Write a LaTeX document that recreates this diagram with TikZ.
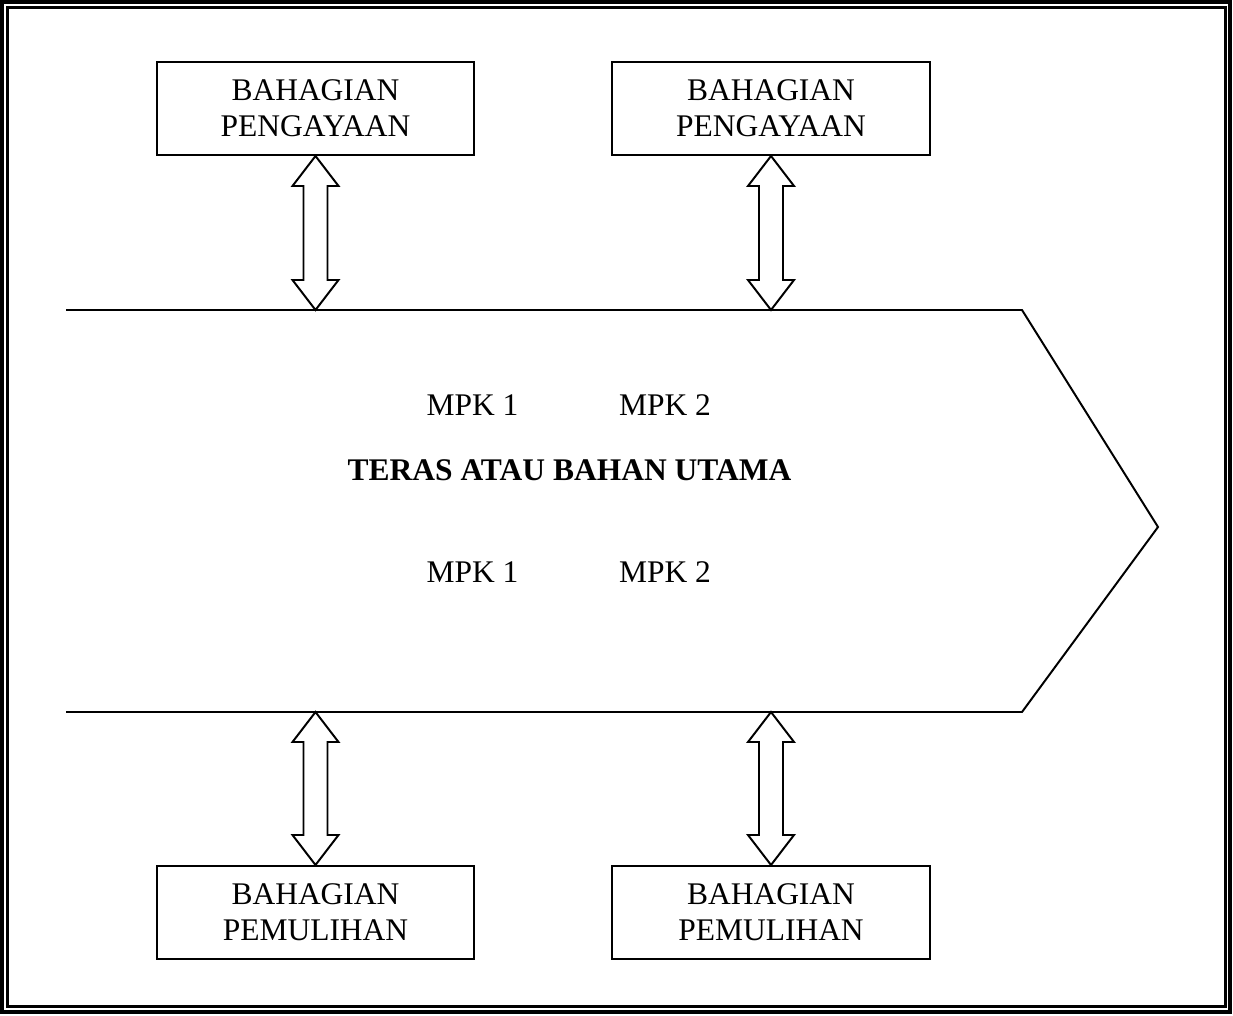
\documentclass[tikz,border=0pt]{standalone}
\usepackage{fontspec}
\setmainfont{Liberation Serif}
\usetikzlibrary{calc}

\tikzset{
  kotak/.style={draw,line width=1.4pt,minimum width=7.925cm,minimum height=2.325cm,
    inner sep=0pt,align=center,font=\fontsize{22.4}{25.6}\selectfont},
  teks/.style={anchor=base,inner sep=0pt,font=\fontsize{22.4}{25.6}\selectfont},
  garis/.style={line width=1.4pt,line join=miter},
}

% anak panah dua hala: #1 hujung atas, #2 hujung bawah
\newcommand{\duahala}[2]{%
  \draw[garis] (#1) -- ++(23,30) -- ++(-11,0) -- ($(#2)+(12,-30)$) -- ++(11,0)
    -- (#2) -- ++(-23,-30) -- ++(11,0) -- ($(#1)+(-12,30)$) -- ++(-11,0) -- cycle;}

\begin{document}
\begin{tikzpicture}[x=0.025cm,y=-0.025cm]
    \useasboundingbox (0,0) rectangle (1233,1016);
    % bingkai berganda
    \draw[line width=2.8pt] (2,2) rectangle (1230,1012);
    \draw[line width=1.6pt] (7.5,7.5) rectangle (1225.5,1006.5);

    % jalur utama (bentuk anak panah)
    \draw[garis] (66,310) -- (1022,310) -- (1158,527) -- (1022,712) -- (66,712);
    \coordinate (atas1) at (315.5,310);
    \coordinate (atas2) at (771,310);
    \coordinate (bawah1) at (315.5,712);
    \coordinate (bawah2) at (771,712);

    \node[kotak] (pengayaan1) at (315.5,108.5) {BAHAGIAN\\PENGAYAAN};
    \node[kotak] (pengayaan2) at (771,108.5) {BAHAGIAN\\PENGAYAAN};
    \node[kotak] (pemulihan1) at (315.5,912.5) {BAHAGIAN\\PEMULIHAN};
    \node[kotak] (pemulihan2) at (771,912.5) {BAHAGIAN\\PEMULIHAN};

    \node[teks] (mpka1) at (472.5,415) {MPK 1};
    \node[teks] (mpka2) at (665,415) {MPK 2};
    \node[teks,font=\fontsize{22.4}{25.6}\selectfont\bfseries] (teras) at (569.5,480) {TERAS ATAU BAHAN UTAMA};
    \node[teks] (mpkb1) at (472.5,582) {MPK 1};
    \node[teks] (mpkb2) at (665,582) {MPK 2};

    \duahala{pengayaan1.south}{atas1}
    \duahala{pengayaan2.south}{atas2}
    \duahala{bawah1}{pemulihan1.north}
    \duahala{bawah2}{pemulihan2.north}
\end{tikzpicture}
\end{document}
